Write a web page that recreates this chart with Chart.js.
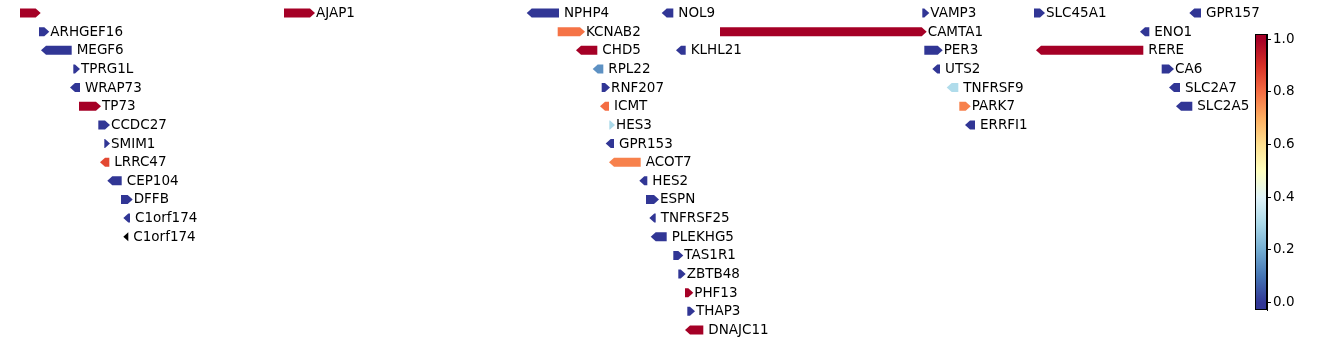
<!DOCTYPE html>
<html>
<head>
<meta charset="utf-8">
<script src="https://cdn.jsdelivr.net/npm/chart.js@4.4.1/dist/chart.umd.min.js"></script>
<style>
  body { margin: 0; background: #fff; }
  #wrap { position: relative; width: 1338px; height: 344px; }
  #genes { position: absolute; left: 0; top: 0; }
  #cbar { position: absolute; left: 1250px; top: 24px; }
</style>
</head>
<body>
<div id="wrap">
  <canvas id="genes" width="1338" height="344"></canvas>
  <canvas id="cbar" width="70" height="296"></canvas>
</div>
<script>
// gene track data (positions in track units, rows counted from top)
const NAMES = ['', 'AJAP1', 'ARHGEF16', 'MEGF6', 'TPRG1L', 'WRAP73', 'TP73', 'CCDC27', 'SMIM1', 'LRRC47',
  'CEP104', 'DFFB', 'C1orf174', 'C1orf174', 'NPHP4', 'NOL9', 'KCNAB2', 'CAMTA1', 'CHD5', 'KLHL21',
  'RPL22', 'RNF207', 'ICMT', 'HES3', 'GPR153', 'ACOT7', 'HES2', 'ESPN', 'TNFRSF25', 'PLEKHG5',
  'TAS1R1', 'ZBTB48', 'PHF13', 'THAP3', 'DNAJC11', 'VAMP3', 'PER3', 'UTS2', 'TNFRSF9', 'PARK7',
  'ERRFI1', 'SLC45A1', 'GPR157', 'ENO1', 'RERE', 'CA6', 'SLC2A7', 'SLC2A5'];
const ROW = [0, 0, 1, 2, 3, 4, 5, 6, 7, 8,
  9, 10, 11, 12, 0, 0, 1, 1, 2, 2,
  3, 4, 5, 6, 7, 8, 9, 10, 11, 12,
  13, 14, 15, 16, 17, 0, 2, 3, 4, 5,
  6, 0, 0, 1, 2, 3, 4, 5];
const START = [20, 284, 39, 41, 73.3, 70, 79, 98.3, 104.3, 100,
  107.3, 121, 123.3, 123.3, 526.7, 661.7, 557.7, 720, 576, 676,
  592.7, 601.7, 600, 609.3, 605.7, 609, 639.3, 646, 649.3, 650.7,
  673.3, 678.3, 685, 687.3, 685, 922.3, 924.3, 932.3, 946.7, 959.3,
  965, 1034, 1189.3, 1140, 1036, 1161.7, 1169, 1176];
const END = [40.7, 315, 49.3, 71.7, 80, 80, 101, 110, 110, 109.3,
  121.7, 132.7, 130, 128.3, 559, 673.3, 585, 926.7, 597.3, 685.7,
  603.3, 610, 609, 615, 614, 640.7, 647.3, 659, 655.7, 666.7,
  683.3, 685.7, 693.3, 695, 703.3, 929.3, 942.7, 940, 958.3, 970.7,
  975, 1045, 1201, 1149.3, 1143.3, 1174, 1180, 1192.3];
const STRAND = [1, 1, 1, -1, 1, -1, 1, 1, 1, -1,
  -1, 1, -1, -1, -1, -1, 1, 1, -1, -1,
  -1, 1, -1, 1, -1, -1, -1, 1, -1, -1,
  1, 1, 1, 1, -1, 1, 1, -1, -1, 1,
  -1, 1, -1, -1, -1, 1, -1, -1];
const SCORE = [1, 1, 0, 0, 0, 0, 1, 0, 0, 0.86,
  0, 0, 0, null, 0, 0, 0.79, 1, 1, 0,
  0.15, 0, 0.8, 0.3, 0, 0.77, 0, 0, 0, 0,
  0, 0, 1, 0, 1, 0, 0, 0, 0.31, 0.77,
  0, 0, 0, 0, 1, 0, 0, 0];
const ROWS = ['0', '1', '2', '3', '4', '5', '6', '7', '8', '9', '10', '11', '12', '13', '14', '15', '16', '17'];
const CB_TICKS = [0, 0.2, 0.4, 0.6, 0.8, 1.0];
const CB_MIN = -0.028, CB_MAX = 1.02;

// RdYlBu reversed, 11 stops from 0 to 1
const CMAP = ['#313695', '#4575b4', '#74add1', '#abd9e9', '#e0f3f8', '#ffffbf',
  '#fee090', '#fdae61', '#f46d43', '#d73027', '#a50026'];

function hexRgb(h) {
  return [parseInt(h.slice(1, 3), 16), parseInt(h.slice(3, 5), 16), parseInt(h.slice(5, 7), 16)];
}
function colorFor(v) {
  if (v === null || v === undefined) return '#000000';
  v = Math.max(0, Math.min(1, v));
  const p = v * 10, i = Math.min(9, Math.floor(p)), t = p - i;
  const a = hexRgb(CMAP[i]), b = hexRgb(CMAP[i + 1]);
  const c = a.map((x, k) => Math.round(x + (b[k] - x) * t));
  return `rgb(${c[0]},${c[1]},${c[2]})`;
}

Chart.defaults.font.family = "'DejaVu Sans', sans-serif";
Chart.defaults.font.size = 13.5;
Chart.defaults.color = '#000';

const FONT = "13.5px 'DejaVu Sans', sans-serif";

// draws each bar as a gene arrow plus its label
const arrowPlugin = {
  id: 'arrows',
  beforeDatasetDraw(chart, args) {
    const ctx = chart.ctx;
    const meta = args.meta;
    ctx.save();
    ctx.font = FONT;
    ctx.textBaseline = 'middle';
    ctx.textAlign = 'left';
    meta.data.forEach((el, i) => {
      const p = el.getProps(['x', 'y', 'base', 'height'], true);
      const left = Math.min(p.x, p.base), right = Math.max(p.x, p.base);
      const top = p.y - p.height / 2, bot = p.y + p.height / 2;
      const head = Math.min(5, right - left);
      ctx.fillStyle = colorFor(SCORE[i]);
      ctx.beginPath();
      if (STRAND[i] > 0) {
        ctx.moveTo(left, top);
        ctx.lineTo(right - head, top);
        ctx.lineTo(right, p.y);
        ctx.lineTo(right - head, bot);
        ctx.lineTo(left, bot);
      } else {
        ctx.moveTo(right, top);
        ctx.lineTo(left + head, top);
        ctx.lineTo(left, p.y);
        ctx.lineTo(left + head, bot);
        ctx.lineTo(right, bot);
      }
      ctx.closePath();
      ctx.fill();
      if (NAMES[i]) {
        ctx.fillStyle = '#000';
        ctx.fillText(NAMES[i], right + (STRAND[i] > 0 ? 1 : 5), p.y + 0.5);
      }
    });
    ctx.restore();
    return false;
  }
};

new Chart(document.getElementById('genes'), {
  type: 'bar',
  data: {
    labels: ROWS,
    datasets: [{
      data: NAMES.map((n, i) => ({ x: [START[i], END[i]], y: ROWS[ROW[i]] })),
      backgroundColor: SCORE.map(colorFor),
      barThickness: 9
    }]
  },
  options: {
    indexAxis: 'y',
    responsive: false,
    animation: false,
    devicePixelRatio: 1,
    layout: { padding: { left: 0, right: 0, top: 3.7, bottom: 4.7 } },
    plugins: { legend: { display: false }, tooltip: { enabled: false } },
    scales: {
      x: { type: 'linear', display: false, min: 0, max: 1338 },
      y: { type: 'category', display: false }
    }
  },
  plugins: [arrowPlugin]
});

// colorbar
const cbarPlugin = {
  id: 'cbarFill',
  beforeDraw(chart) {
    const { ctx, chartArea: a } = chart;
    const g = ctx.createLinearGradient(0, a.bottom, 0, a.top);
    const span = CB_MAX - CB_MIN;
    g.addColorStop(0, CMAP[0]);
    CMAP.forEach((c, k) => g.addColorStop((k / 10 - CB_MIN) / span, c));
    g.addColorStop(1, CMAP[10]);
    ctx.save();
    ctx.fillStyle = g;
    ctx.fillRect(a.left, a.top, a.right - a.left, a.bottom - a.top);
    ctx.restore();
  },
  afterDraw(chart) {
    const { ctx, chartArea: a } = chart;
    ctx.save();
    ctx.strokeStyle = '#000';
    ctx.lineWidth = 1;
    ctx.strokeRect(Math.round(a.left) + 0.5, Math.round(a.top) + 0.5,
      Math.round(a.right - a.left) - 1, Math.round(a.bottom - a.top) - 1);
    ctx.restore();
  }
};

new Chart(document.getElementById('cbar'), {
  type: 'bar',
  data: { labels: [''], datasets: [{ data: [] }] },
  options: {
    responsive: false,
    animation: false,
    devicePixelRatio: 1,
    layout: { padding: { left: 5, right: 0, top: 10, bottom: 10 } },
    plugins: { legend: { display: false }, tooltip: { enabled: false } },
    scales: {
      x: { display: false },
      y: {
        position: 'right',
        min: CB_MIN,
        max: CB_MAX,
        afterBuildTicks(scale) { scale.ticks = CB_TICKS.map(v => ({ value: v })); },
        afterFit(scale) { scale.width = 53; scale.paddingTop = 0; scale.paddingBottom = 0; },
        ticks: { callback: v => v.toFixed(1), padding: 2, color: '#000', font: { size: 13.5 } },
        grid: { drawOnChartArea: false, drawTicks: true, tickLength: 4, color: '#000', lineWidth: 1 },
        border: { display: true, color: '#000', width: 1 }
      }
    }
  },
  plugins: [cbarPlugin]
});
</script>
</body>
</html>
